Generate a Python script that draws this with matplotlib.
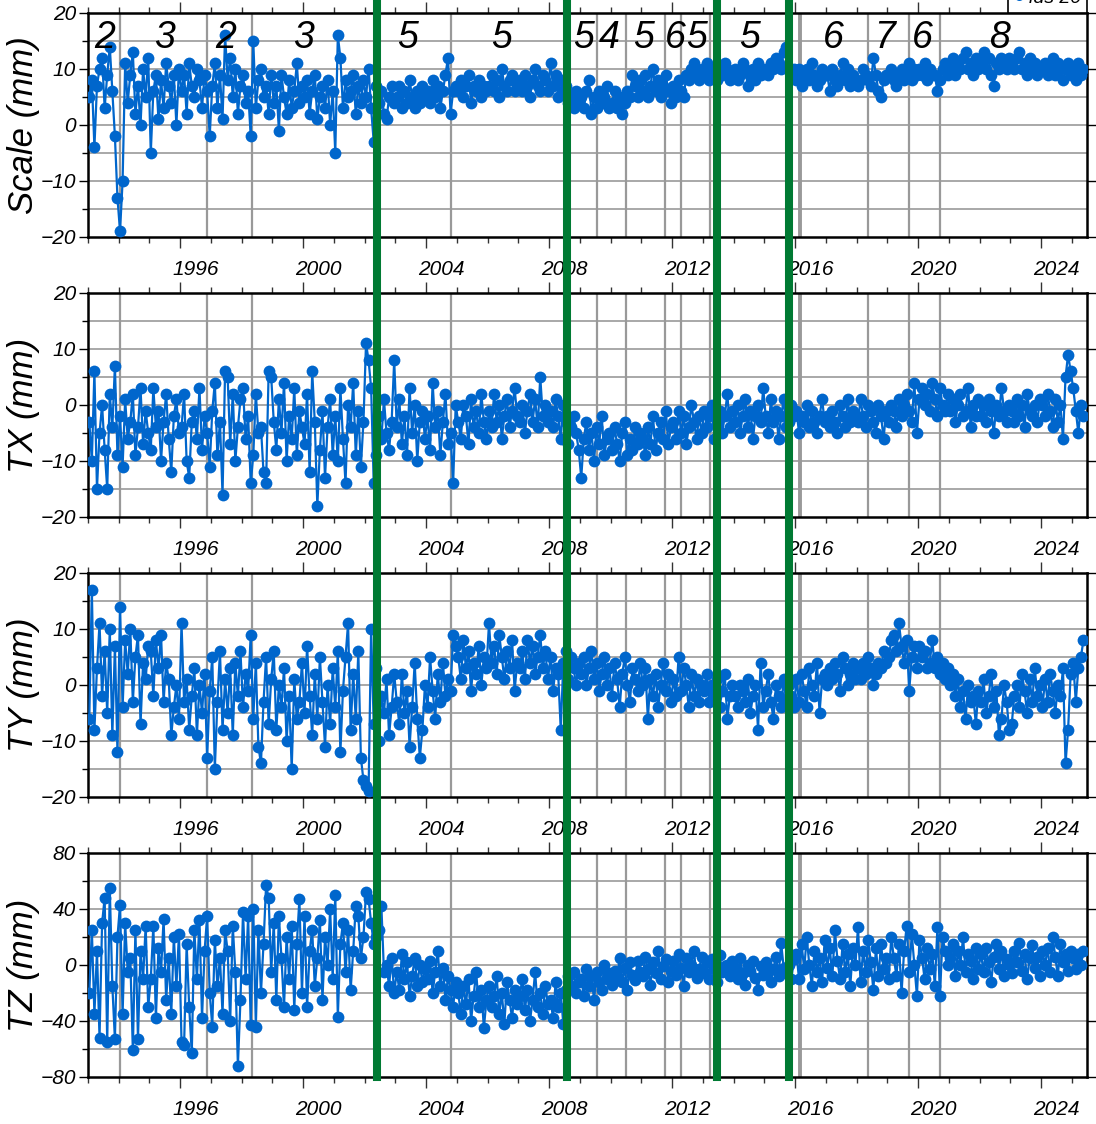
import numpy as np
import matplotlib
matplotlib.use("Agg")
import matplotlib.pyplot as plt
import matplotlib.ticker as ticker
from matplotlib.lines import Line2D
from matplotlib.transforms import blended_transform_factory

# ── Colors ───────────────────────────────────────────────────────────────────
BLUE = "#0066CC"
GREEN = "#007A33"
GRAY = "#999999"

NARROW = ["Liberation Sans Narrow", "Liberation Sans", "DejaVu Sans"]
SANS = ["Liberation Sans", "DejaVu Sans"]

# ── Data: monthly values, Jan 1993 .. May 2025 (one line per year) ─────────
scale = [
    5, 8, -4, 7, 10, 12, 3, 9, 14, 6, -2, -13,
    -19, -10, 11, 4, 9, 13, 2, 7, 0, 10, 5, 12,
    -5, 6, 9, 1, 8, 3, 11, 7, 4, 9, 0, 10,
    6, 9, 2, 11, 7, 5, 10, 8, 3, 9, 6, -2,
    7, 11, 3, 9, 1, 16, 8, 12, 5, 10, 2, 7,
    9, 4, 6, -2, 15, 3, 8, 10, 5, 7, 2, 9,
    4, 7, -1, 9, 5, 2, 8, 3, 6, 11, 4, 7,
    5, 8, 2, 6, 9, 1, 5, 7, 3, 8, 0, 6,
    -5, 16, 12, 3, 8, 5, 6, 9, 2, 7, 4, 8,
    5, 10, 3, -3, 7, 4, 6, 2, 1, 5, 7, 4,
    5, 7, 3, 6, 4, 8, 5, 3, 6, 4, 7, 5,
    6, 4, 8, 5, 7, 3, 6, 9, 12, 2, 6, 7,
    6, 8, 5, 7, 9, 4, 7, 6, 8, 5, 7, 6,
    7, 9, 6, 8, 5, 10, 7, 6, 8, 9, 6, 7,
    8, 6, 9, 7, 5, 8, 10, 7, 6, 9, 8, 6,
    11, 7, 9, 5, 8, 6, 7, 4, 5, 3, 6, 4,
    5, 3, 6, 8, 2, 5, 3, 6, 4, 5, 7, 3,
    4, 6, 3, 5, 2, 4, 6, 5, 9, 7, 5, 8,
    6, 9, 5, 7, 10, 6, 8, 5, 7, 9, 6, 4,
    7, 5, 8, 6, 5, 9, 8, 10, 11, 9, 8, 10,
    9, 11, 8, 10, 9, 8, 10, 9, 11, 10, 8, 9,
    10, 8, 9, 11, 10, 7, 9, 10, 8, 11, 9, 10,
    10, 9, 11, 10, 12, 11, 10, 13, 14, 10, 9, 10,
    8, 10, 7, 9, 10, 8, 11, 9, 7, 8, 10, 9,
    9, 6, 10, 8, 7, 9, 11, 8, 10, 7, 9, 8,
    7, 8, 10, 9, 8, 7, 12, 9, 6, 5, 8, 9,
    9, 10, 8, 7, 9, 10, 8, 9, 11, 8, 10, 9,
    10, 9, 11, 8, 10, 9, 9, 6, 8, 10, 11, 9,
    10, 12, 9, 11, 10, 12, 13, 10, 11, 9, 12, 10,
    11, 13, 10, 12, 9, 7, 11, 10, 12, 11, 10, 12,
    11, 10, 12, 13, 10, 11, 9, 12, 10, 11, 9, 10,
    10, 11, 9, 10, 12, 9, 11, 10, 8, 10, 11, 9,
    10, 8, 11, 9, 10,
]

tx = [
    -3, -10, 6, -15, -5, 0, -8, -15, 2, -4, 7, -9,
    -2, -11, 1, -6, -3, 2, -9, -4, 3, -7, -1, -5,
    -8, 3, -4, -1, -10, -3, 2, -6, -12, -2, 1, -5,
    -4, 2, -10, -13, -3, -1, -6, 3, -8, -2, -5, -11,
    -1, 4, -9, -3, -16, 6, 5, -7, 2, -10, -4, 1,
    3, -6, -2, -14, -9, 2, -5, -4, -12, -14, 6, 5,
    -3, -8, 1, -5, 4, -10, -2, -6, 3, -9, -1, -4,
    -7, 2, -12, 6, -3, -18, -8, -1, -13, -4, 1, -9,
    -2, -10, 3, -6, -14, 0, -4, 4, -9, -1, -11, -3,
    11, 8, 3, -14, -9, -2, -6, 1, -5, -8, -3, 8,
    -4, 1, -7, -2, -9, 3, -5, 0, -10, -3, -1, -6,
    -2, -8, 4, -4, -1, -9, -3, 2, -7, -5, -14, 0,
    -3, -6, 0, -2, -7, 1, -4, -1, -5, 2, -3, -6,
    -1, -4, 2, -3, 0, -6, -2, 1, -4, -1, 3, -2,
    -3, 0, -5, -1, 2, -3, 1, -4, 5, -2, 0, -3,
    -1, -4, 1, -2, -6, 0, -3, -7, -4, -2, -5, -8,
    -13, -6, -3, -8, -5, -10, -4, -7, -2, -9, -6, -5,
    -8, -4, -7, -10, -5, -3, -9, -6, -8, -4, -7, -5,
    -6, -9, -4, -7, -2, -8, -5, -3, -6, -1, -7, -4,
    -3, -6, -1, -5, -2, -7, -4, 0, -3, -6, -2, -5,
    -1, -4, -2, 0, -6, -3, -1, -5, -2, 2, -4, -1,
    -3, 0, -5, -2, 1, -4, -1, -6, -2, 0, -3, 3,
    -2, -5, 1, -3, -1, -6, -2, 1, -4, -3, 0, -2,
    -1, -5, -2, -3, 0, -4, -1, -3, -5, -2, 1, -3,
    -2, -4, -1, -3, -5, 0, -2, -4, 1, -3, -1, -2,
    -3, 1, -2, -4, 0, -1, -3, -5, 0, -2, -6, -1,
    -3, 0, -1, -4, 1, -2, 0, 2, -1, -3, 4, -5,
    1, 3, 0, 2, -1, 4, 1, -2, 3, 0, -1, 2,
    -1, 1, -3, 0, 2, -2, -1, 3, -4, 0, -2, 1,
    -2, 0, -3, 1, -1, -5, 0, -2, 3, -1, -3, 0,
    -1, -3, 1, -2, 0, -4, 2, -1, -2, 0, -3, 1,
    0, -2, 2, -1, -4, 1, -3, 0, -6, 5, 9, 6,
    3, -1, -5, 0, -2,
]

ty = [
    -6, 17, -8, 3, 11, -2, 6, -5, 10, -9, 7, -12,
    14, -4, 8, 2, 10, -3, 5, 9, -7, 4, 1, 7,
    6, -2, 8, 3, 9, -3, 4, 1, -9, -4, 0, -6,
    11, -3, 1, -8, -2, 3, -9, 0, -5, 2, -13, -1,
    5, -15, -3, 6, -8, 1, -5, 3, -9, 4, -2, 6,
    -4, 2, -1, 9, -6, 4, -11, -14, -3, 5, -7, 1,
    6, -8, 0, -4, 3, -10, -2, -15, 1, -6, -3, 4,
    -5, 7, -2, -9, 2, -6, 5, -3, -11, 0, -7, 3,
    -4, 6, -12, -1, 5, 11, -8, 2, -6, 6, -13, -17,
    -18, -19, 10, -7, 3, -10, -2, -5, 1, -9, -4, 2,
    -3, -7, 2, -5, -1, -11, -4, 4, -6, -13, -8, 0,
    -4, 5, -1, -6, 2, -3, 4, -2, 1, -1, 9, 7,
    5, 1, 8, 3, 6, -1, 4, 2, 7, 0, 5, 3,
    11, 4, 7, 2, 9, 5, 1, 6, 3, 8, -1, 4,
    3, 6, 1, 8, 4, 7, 2, 5, 9, 3, 6, 1,
    5, -1, 3, 2, -8, 4, 6, 1, 5, 3, 0, 4,
    2, 5, 0, 3, 6, 1, 4, -1, 2, 5, 0, 3,
    -2, 4, 1, -4, 2, 5, 0, -3, 3, 1, -1, 4,
    0, 3, -6, 1, -2, 2, -4, 0, 4, -1, 2, -3,
    1, -2, 5, -1, 3, 0, -4, 2, -2, 1, -3, 0,
    -1, 2, -3, 0, -2, 1, -4, -1, 2, -6, -2, 0,
    -2, -4, 0, -1, -3, 1, -5, -2, 0, -8, 4, -4,
    -1, 2, -3, -6, 0, -2, -4, 1, -3, 0, -2, -4,
    1, -3, 2, -1, -4, 3, 0, -2, 4, -5, 1, 2,
    0, 3, 1, 4, 2, -1, 5, 3, 0, 2, 4, 1,
    3, 1, 4, 2, 5, 3, 0, 2, 4, 3, 6, 4,
    5, 8, 9, 6, 11, 7, 4, 8, -1, 5, 7, 3,
    7, 5, 6, 3, 4, 8, 3, 5, 2, 4, 1, 3,
    0, 2, -2, 1, -4, -1, -6, 0, -3, -2, -7, -1,
    -3, 1, -5, -2, 2, -4, -1, -9, -6, 0, -3, -8,
    -7, -2, 0, -4, 2, -1, -5, 1, -3, 3, -2, 0,
    -4, 1, -3, 2, -1, -5, 0, -2, 3, -14, -8, 2,
    4, -3, 3, 5, 8,
]

tz = [
    -20, 25, -35, 10, -52, 30, 48, -55, 55, -15, -53, 20,
    43, -35, 30, -5, 5, -61, 25, -53, 10, -10, 28, -30,
    -10, 28, -38, 12, -5, 33, -25, 5, -35, 20, -15, 22,
    -55, -57, 15, -30, -63, 25, -10, 32, -38, 10, 35, -20,
    -44, 18, -15, 5, -35, 25, 10, -40, 28, -5, -72, -25,
    38, -10, 35, -43, 40, -44, 25, -20, 15, 57, 48, -5,
    30, -25, 35, 5, -30, 20, -10, 28, -32, 15, 47, -20,
    35, -30, 10, 25, -15, 5, 32, -25, 20, 0, 40, -10,
    50, -37, 15, 30, -5, 25, -18, 10, 42, 35, 5, 20,
    52, 47, 30, 15, 20, 25, 42, -5, 0, -15, 5, -20,
    -5, -18, 8, -10, 2, -22, -8, 5, -15, 0, -12, -3,
    -10, 3, -20, -5, 10, -15, -2, -25, -8, -18, -30, -12,
    -20, -35, -15, -28, -10, -40, -22, -5, -30, -18, -45, -25,
    -15, -30, -22, -8, -35, -20, -42, -12, -25, -38, -18, -28,
    -22, -10, -32, -18, -40, -25, -5, -30, -20, -35, -15, -28,
    -25, -38, -12, -30, -20, -42, -18, -8, -15, -5, -20, -12,
    -10, -22, -3, -15, -8, -25, -5, -12, -18, 0, -10, -6,
    -14, -4, -9, 5, -12, -2, -18, 2, -7, -11, 3, -5,
    -8, 6, -3, -14, 2, -6, 10, -10, -1, 4, -12, -4,
    3, -7, 8, -2, -15, 5, -5, 0, 10, -9, -3, 6,
    -6, 2, -10, 4, -3, -12, 7, -5, -1, 0, -8, 3,
    -2, -10, 5, -6, -14, 0, -4, 3, -9, -18, -1, -7,
    2, -5, -12, -3, 6, -8, 16, -2, -6, 0, -10, 4,
    8, -10, 15, -3, 20, 0, -15, 10, -5, 5, -12, 18,
    -2, 12, -8, 25, 3, -10, 15, -5, 8, -15, 12, 0,
    27, -12, 10, -5, 18, 2, -18, 12, -8, 15, -3, 5,
    -10, 20, 5, -8, 15, -20, 10, 28, -5, 22, 0, -22,
    18, 5, -10, 12, -3, 8, -15, 27, -22, 20, 10, 0,
    5, 15, -8, 10, 0, 20, -5, 8, 3, -10, 12, -3,
    8, -5, 12, 2, -12, 6, 15, -3, 10, -8, 4, 0,
    -6, 10, 2, 16, -4, 8, -10, 5, 14, -2, 6, -8,
    10, 0, 12, -5, 20, 6, -8, 15, 2, 8, -4, 10,
    5, -3, 8, 0, 10,
]

# solution changes (gray) and major events (green), decimal years
gray_events = [1994.04, 1996.86, 1998.34, 2004.82, 2009.55, 2010.5, 2011.77,
               2012.3, 2013.22, 2018.37, 2019.7, 2020.7]
wide_gray_events = [2016.15]
green_events = [2002.4, 2008.57, 2013.46, 2015.8]

# number of satellites per period, shown at the top of the Scale panel
sat_counts = ["2", "3", "2", "3", "5", "5", "5", "4", "5", "6", "5", "5",
              "6", "7", "6", "8"]
sat_years = [1993.55, 1995.5, 1997.49, 2000.0, 2003.4, 2006.46, 2009.13,
             2009.94, 2011.08, 2012.09, 2012.8, 2014.53, 2017.23, 2018.92,
             2020.15, 2022.63]

year_labels = [1996, 2000, 2004, 2008, 2012, 2016, 2020, 2024]

assert len(scale) == len(tx) == len(ty) == len(tz)
epochs = 1993.0 + (np.arange(len(scale)) + 0.5) / 12.0

panels = [
    ("Scale (mm)", scale, (-20, 20), 10, 5),
    ("TX (mm)", tx, (-20, 20), 10, 5),
    ("TY (mm)", ty, (-20, 20), 10, 5),
    ("TZ (mm)", tz, (-80, 80), 40, 20),
]

W, H = 1096, 1124
fig = plt.figure(figsize=(W / 100, H / 100), dpi=100)
fig.patch.set_facecolor("white")

left, right = 88 / W, 1087 / W
bottoms_px = [237, 517, 797, 1077]
height = 224 / H

axes = []
for (label, values, (lo, hi), major, minor), bpx in zip(panels, bottoms_px):
    ax = fig.add_axes([left, 1 - bpx / H, right - left, height])
    axes.append(ax)
    ax.set_xlim(1993.0, 2025.49)
    ax.set_ylim(lo, hi)

    for v in np.arange(lo + minor, hi, minor):
        ax.axhline(v, color=GRAY, lw=1.2, zorder=1)
    for d in gray_events:
        ax.axvline(d, color=GRAY, lw=1.6, zorder=1)
    for d in wide_gray_events:
        ax.axvline(d, color=GRAY, lw=2.8, zorder=1)

    ax.plot(epochs, values, color=BLUE, lw=1.6, marker="o", ms=8.5,
            mec="none", zorder=3)

    # ticks
    ax.xaxis.set_major_locator(ticker.MultipleLocator(4))
    ax.xaxis.set_minor_locator(ticker.MultipleLocator(1))
    ax.yaxis.set_major_locator(ticker.MultipleLocator(major))
    ax.yaxis.set_minor_locator(ticker.MultipleLocator(minor))
    ax.tick_params(axis="x", which="both", direction="out", top=True,
                   bottom=True, labelbottom=False, color="#333333")
    ax.tick_params(axis="x", which="major", length=8, width=1)
    ax.tick_params(axis="x", which="minor", length=4.5, width=1)
    ax.tick_params(axis="y", which="major", direction="out", length=6.5,
                   width=1, right=True, pad=2, labelsize=15)
    ax.tick_params(axis="y", which="minor", direction="out", length=4.5,
                   width=1, right=False)
    for t in ax.get_yticklabels():
        t.set_family(NARROW)
        t.set_style("italic")
    ax.yaxis.set_major_formatter(
        ticker.FuncFormatter(lambda v, _: f"{v:.0f}".replace("-", "\u2212")))

    for s in ax.spines.values():
        s.set_linewidth(1.8)

    # year annotations centred in the year interval
    trans = blended_transform_factory(ax.transData, ax.transAxes)
    for yr in year_labels:
        ax.text(yr + 0.5, -0.147, str(yr), transform=trans, ha="center",
                va="center", fontsize=15, style="italic", family=NARROW)

    ax.set_ylabel(label, fontsize=25, style="italic", family=SANS)
    ax.yaxis.label.set_va("center")
    ax.yaxis.set_label_coords(-0.065, 0.5)

# satellite counts
ax0 = axes[0]
for txt, yr in zip(sat_counts, sat_years):
    ax0.text(yr, 15.5, txt, ha="center", va="center", fontsize=27,
             style="italic", family=SANS, zorder=4)

# legend, partly above the figure edge
handle = Line2D([], [], color=BLUE, marker="o", ms=6.5, mec="none", lw=0)
leg = ax0.legend([handle], ["ids 20"], loc="lower right",
                 bbox_to_anchor=(1.0, 1.0), borderaxespad=0, fancybox=False,
                 framealpha=1, edgecolor="black", handlelength=0.6,
                 handletextpad=0.2, borderpad=0.3,
                 prop={"family": SANS, "style": "italic", "size": 14})
leg.get_frame().set_linewidth(1.2)

# green events run across all panels
gtrans = blended_transform_factory(ax0.transData, fig.transFigure)
for d in green_events:
    fig.add_artist(Line2D([d, d], [1 - bottoms_px[-1] / H, 1.0],
                          transform=gtrans, color=GREEN, lw=5.8, zorder=5))

fig.savefig("out.png", dpi=100, facecolor="white")
